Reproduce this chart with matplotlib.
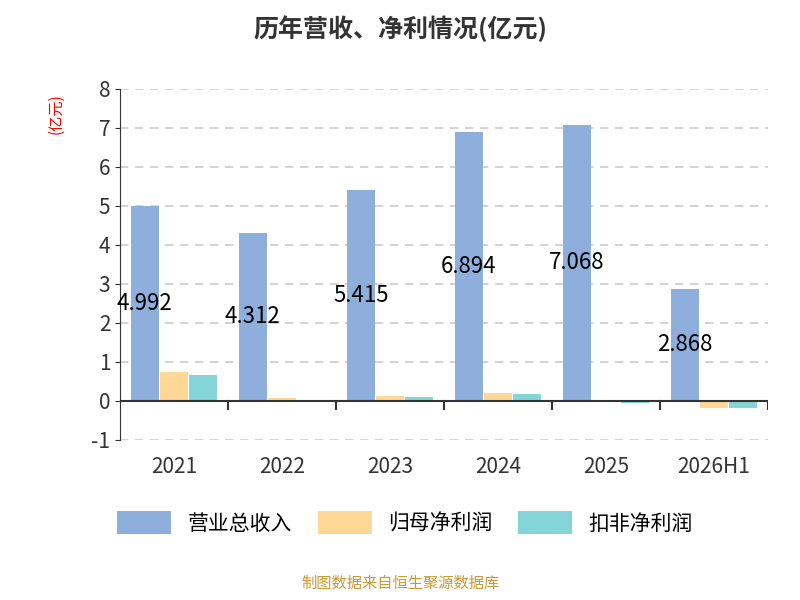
import matplotlib.pyplot as plt
import numpy as np

plt.rcParams['font.family'] = ['Noto Sans CJK SC', 'DejaVu Sans']
plt.rcParams['axes.unicode_minus'] = False

years = ["2021", "2022", "2023", "2024", "2025", "2026H1"]
revenue = [4.992, 4.312, 5.415, 6.894, 7.068, 2.868]
net_profit = [0.73, 0.08, 0.12, 0.20, -0.02, -0.18]
deducted_profit = [0.65, 0.005, 0.09, 0.17, -0.05, -0.19]

fig = plt.figure(figsize=(8, 6), dpi=100)
ax = fig.add_axes([0.15, 0.267, 0.81, 0.585])

x = np.arange(len(years))
w = 0.26
ax.bar(x - w - 0.01, revenue, w, color="#8eaedb", label="营业总收入")
ax.bar(x, net_profit, w, color="#ffd898", label="归母净利润")
ax.bar(x + w + 0.01, deducted_profit, w, color="#85d5d8", label="扣非净利润")

for xi, v in zip(x, revenue):
    ax.text(xi - w - 0.01, v / 2, f"{v:.3f}", ha="center", va="center", fontsize=16, color="black")

ax.set_ylim(-1, 8)
ax.set_xlim(-0.5, 5.5)
ax.set_yticks(range(-1, 9))
ax.set_xticks(x)
ax.set_xticklabels(years)
ax.tick_params(axis="both", labelsize=15, colors="#333333")
ax.tick_params(axis="x", length=0, pad=12)
ax.grid(axis="y", linestyle=(0, (5, 4)), color="#cccccc", linewidth=1.2)
ax.set_axisbelow(True)
for s in ["top", "right", "bottom"]:
    ax.spines[s].set_visible(False)
ax.spines["left"].set_color("#333333")
ax.axhline(0, color="#333333", linewidth=1.5)
for b in np.arange(0.5, 6, 1):
    ax.plot([b, b], [0, -0.2], color="#333333", linewidth=1.5)

fig.text(0.07, 0.81, "(亿元)", color="red", rotation=90, fontsize=11, ha="center", va="center")
fig.suptitle("历年营收、净利情况(亿元)", fontsize=18, fontweight="bold", color="#333333", y=0.975)
ax.legend(loc="upper center", bbox_to_anchor=(0.44, -0.15), ncol=3, frameon=False,
          fontsize=15, handlelength=2.6, handleheight=1.3, columnspacing=1.2)
fig.text(0.5, 0.02, "制图数据来自恒生聚源数据库", color="#cc9933", fontsize=11, ha="center")

fig.savefig("out.png")
